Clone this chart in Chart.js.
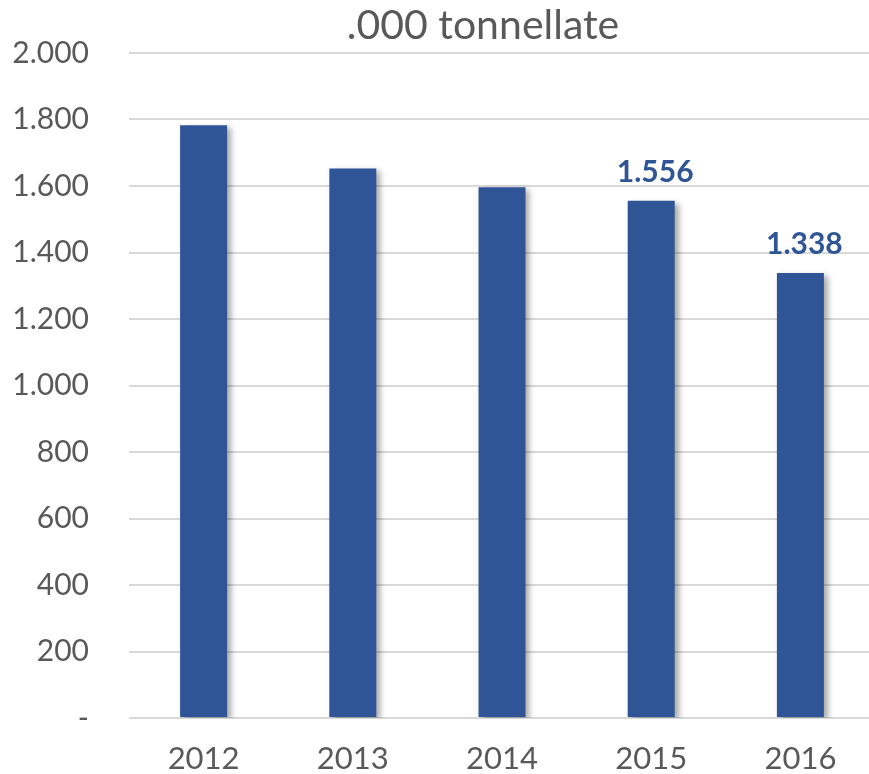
<!DOCTYPE html>
<html>
<head>
<meta charset="utf-8">
<script src="https://cdn.jsdelivr.net/npm/chart.js@4/dist/chart.umd.min.js"></script>
<style>
  html, body { margin: 0; padding: 0; background: #fff; overflow: hidden; }
  #wrap { width: 875px; height: 774px; }
</style>
</head>
<body>
<div id="wrap"><canvas id="tonChart"></canvas></div>
<script>
const years = ['2012', '2013', '2014', '2015', '2016'];
const tonnes = [1783, 1653, 1596, 1556, 1338];
const showValue = [false, false, false, true, true];
const titleText = '.000 tonnellate';

const FONT = 'Lato, "Noto Sans", sans-serif';
const GREY = '#595959';
const BLUE = '#2F5597';

function formatIt(v) {
    if (v === 0) return '-';
    return String(Math.round(v)).replace(/\B(?=(\d{3})+(?!\d))/g, '.');
}

// soft drop shadow behind the bars
const barShadow = {
    id: 'barShadow',
    beforeDatasetsDraw(chart) {
        const ctx = chart.ctx;
        ctx.save();
        ctx.shadowColor = 'rgba(0, 0, 0, 0.35)';
        ctx.shadowBlur = 6;
        ctx.shadowOffsetX = 4;
        ctx.shadowOffsetY = 3;
    },
    afterDatasetsDraw(chart) {
        chart.ctx.restore();
    }
};

// value labels above selected bars
const valueLabels = {
    id: 'valueLabels',
    afterDatasetsDraw(chart) {
        const ctx = chart.ctx;
        const meta = chart.getDatasetMeta(0);
        ctx.save();
        ctx.font = 'bold 30px ' + FONT;
        ctx.fillStyle = BLUE;
        ctx.textAlign = 'center';
        ctx.textBaseline = 'alphabetic';
        meta.data.forEach((bar, i) => {
            if (!showValue[i]) return;
            ctx.fillText(formatIt(tonnes[i]), bar.x + 4, bar.y - 19);
        });
        ctx.restore();
    }
};

// title above the plot
const topTitle = {
    id: 'topTitle',
    afterDraw(chart) {
        const ctx = chart.ctx;
        const area = chart.chartArea;
        ctx.save();
        ctx.font = '41px ' + FONT;
        ctx.fillStyle = GREY;
        ctx.textAlign = 'center';
        ctx.textBaseline = 'middle';
        ctx.fillText(titleText, (area.left + area.right) / 2 - 19, 26);
        ctx.restore();
    }
};

new Chart(document.getElementById('tonChart'), {
    type: 'bar',
    data: {
        labels: years,
        datasets: [{
            data: tonnes,
            backgroundColor: BLUE,
            borderWidth: 0,
            barPercentage: 0.63,
            categoryPercentage: 0.5
        }]
    },
    options: {
        responsive: true,
        maintainAspectRatio: false,
        animation: false,
        layout: { padding: { top: 53, right: 0, bottom: 0, left: 0 } },
        plugins: {
            legend: { display: false },
            title: { display: false },
            tooltip: { enabled: false }
        },
        scales: {
            x: {
                grid: { display: false, drawTicks: false },
                border: { display: false },
                ticks: {
                    color: GREY,
                    font: { family: FONT, size: 31 },
                    padding: 22
                },
                afterFit(scale) { scale.height = 56; }
            },
            y: {
                min: 0,
                max: 2000,
                grid: { color: '#D9D9D9', lineWidth: 2, drawTicks: false },
                border: { display: false },
                ticks: {
                    stepSize: 200,
                    color: GREY,
                    font: { family: FONT, size: 30 },
                    padding: 40,
                    callback: v => formatIt(v)
                },
                afterFit(scale) {
                    // the tick padding shouldn't push the plot top/bottom inward
                    scale.width = 129;
                    scale.paddingTop = 0;
                    scale.paddingBottom = 0;
                }
            }
        }
    },
    plugins: [barShadow, valueLabels, topTitle]
});
</script>
</body>
</html>
